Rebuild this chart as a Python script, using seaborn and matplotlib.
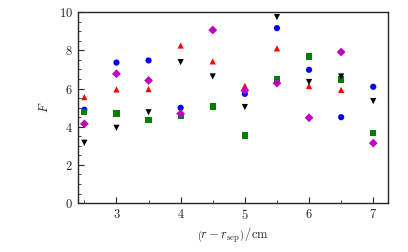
import numpy as np
import pandas as pd
import matplotlib
matplotlib.use("Agg")
import matplotlib.pyplot as plt
import seaborn as sns
from matplotlib.ticker import MultipleLocator

x_all = [2.5, 3, 3.5, 4, 4.5, 5, 5.5, 6, 6.5, 7]
blue_circle = [4.89, 7.36, 7.47, 4.99, None, 5.72, 9.16, 6.98, 4.50, 6.09]
red_triangle = [5.55, 5.95, 5.97, 8.25, 7.42, 6.14, 8.10, 6.13, 5.93, None]
green_square = [4.75, 4.69, 4.36, 4.57, 5.06, 3.54, 6.49, 7.68, 6.47, 3.66]
magenta_diamond = [4.15, 6.77, 6.42, 4.68, 9.06, 5.90, 6.28, 4.47, 7.91, 3.14]
black_down = [3.16, 3.94, 4.76, 7.38, 6.63, 5.03, 9.74, 6.34, 6.63, 5.34]

series = {
    "blue": blue_circle,
    "red": red_triangle,
    "green": green_square,
    "magenta": magenta_diamond,
    "black": black_down,
}
rows = []
for name, vals in series.items():
    for xv, yv in zip(x_all, vals):
        if yv is not None:
            rows.append({"x": xv, "F": yv, "s": name})
df = pd.DataFrame(rows)

sns.set_style("ticks")
plt.rcParams["font.family"] = ["cmr10"]
plt.rcParams["mathtext.fontset"] = "cm"
plt.rcParams["axes.formatter.use_mathtext"] = True

fig = plt.figure(figsize=(4.08, 2.52), dpi=100)
ax = fig.add_axes([0.191, 0.194, 0.760, 0.758])

palette = {"blue": "#0000ff", "red": "#ff0000", "green": "#008000",
           "magenta": "#c000c0", "black": "#000000"}
markers = {"blue": "o", "red": "^", "green": "s", "magenta": "D", "black": "v"}
sns.scatterplot(data=df, x="x", y="F", hue="s", style="s", palette=palette,
                markers=markers, s=20, linewidth=0, legend=False, ax=ax)

ax.set_xlim(2.4, 7.23)
ax.set_ylim(0, 10)
ax.xaxis.set_major_locator(MultipleLocator(1))
ax.xaxis.set_minor_locator(MultipleLocator(0.5))
ax.yaxis.set_major_locator(MultipleLocator(2))
ax.yaxis.set_minor_locator(MultipleLocator(0.5))
ax.tick_params(which="both", direction="in", top=False, right=False, labelsize=9)
ax.tick_params(which="major", length=4.5, width=0.8)
ax.tick_params(which="minor", length=2.5, width=0.6)
for sp in ax.spines.values():
    sp.set_linewidth(1.0)
ax.set_xlabel(r"$\left(r-r_{\mathrm{sep}}\right)\,/\mathrm{cm}$", fontsize=9, labelpad=3)
ax.set_ylabel(r"$F$", fontsize=9, labelpad=6)

fig.savefig("out.png", dpi=100)
